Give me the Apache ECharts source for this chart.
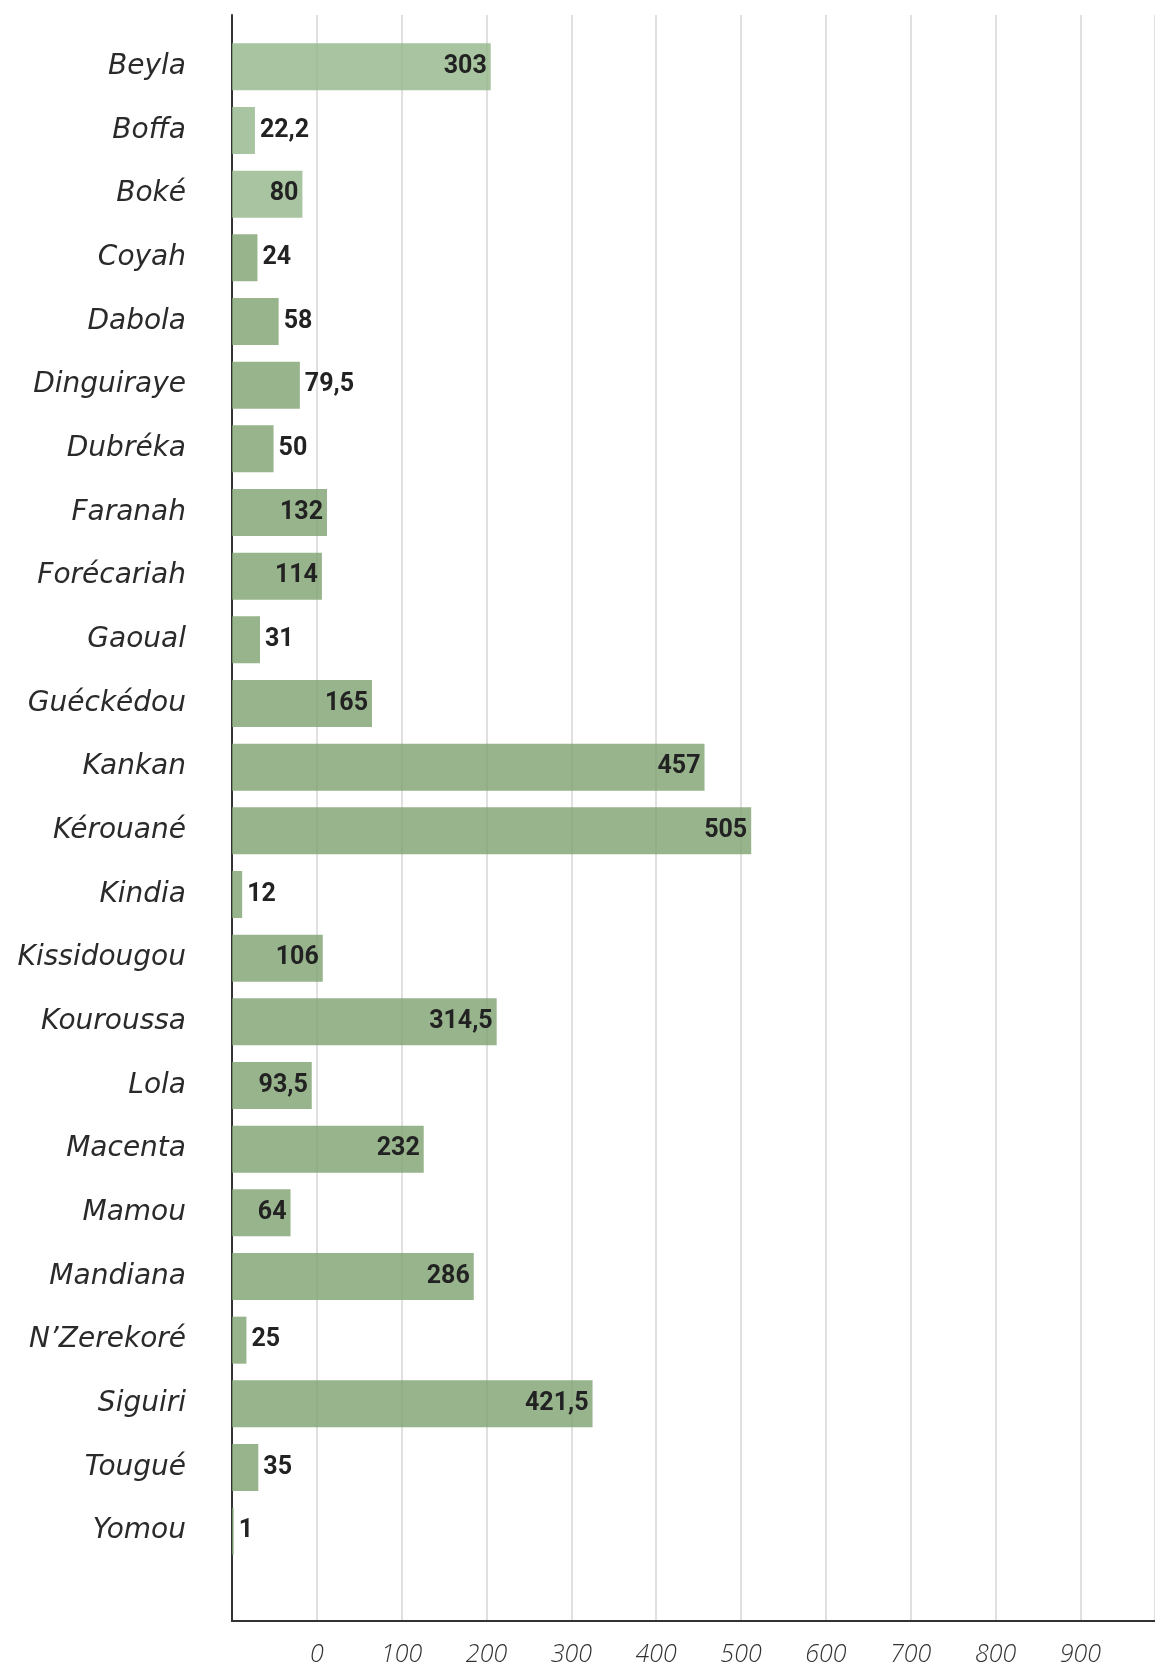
<!DOCTYPE html>
<html>
<head>
<meta charset="utf-8">
<script src="https://cdn.jsdelivr.net/npm/echarts@6/dist/echarts.min.js"></script>
<style>
  html, body { margin: 0; padding: 0; background: #ffffff; }
  #chart { width: 1155px; height: 1667px; }
</style>
</head>
<body>
<div id="chart"></div>
<script>
// Prefectures (top to bottom)
const categories = ['Beyla', 'Boffa', 'Boké', 'Coyah', 'Dabola', 'Dinguiraye', 'Dubréka', 'Faranah',
  'Forécariah', 'Gaoual', 'Guéckédou', 'Kankan', 'Kérouané', 'Kindia', 'Kissidougou', 'Kouroussa',
  'Lola', 'Macenta', 'Mamou', 'Mandiana', 'N’Zerekoré', 'Siguiri', 'Tougué', 'Yomou'];

// Values printed on the bars
const printedValues = [303, 22.2, 80, 24, 58, 79.5, 50, 132, 114, 31, 165, 457, 505, 12, 106, 314.5,
  93.5, 232, 64, 286, 25, 421.5, 35, 1];

// Bar lengths as drawn, read against the grid (axis line = origin)
const barLengths = [305, 27, 83, 30, 55, 80, 49, 112, 106, 33, 165, 557, 612, 12, 107, 312,
  94, 226, 69, 285, 17, 425, 31, 2];

// Tick labels as printed under the gridlines
const tickLabels = ['', '0', '100', '200', '300', '400', '500', '600', '700', '800', '900'];

const lightBars = ['Beyla', 'Boffa', 'Boké'];
const outsideLabels = ['Boffa', 'Coyah', 'Dabola', 'Dinguiraye', 'Dubréka', 'Gaoual', 'Kindia', 'N’Zerekoré', 'Tougué', 'Yomou'];

const fmt = v => String(v).replace('.', ',');
const AXIS_MAX = 1088;

const chart = echarts.init(document.getElementById('chart'), null, { renderer: 'canvas' });

const seriesData = categories.map((c, i) => ({
  value: barLengths[i],
  itemStyle: { color: lightBars.includes(c) ? 'rgba(146,181,136,0.8)' : 'rgba(126,161,111,0.8)' },
  label: outsideLabels.includes(c)
    ? { position: 'right', distance: 5 }
    : { position: 'insideRight', distance: 4 }
}));

chart.setOption({
  animation: false,
  backgroundColor: '#ffffff',
  grid: [
    { left: 232, right: 0, top: 15, bottom: 45 },
    { left: 232, right: 0, top: 35, height: 1528 }
  ],
  xAxis: [
    {
      gridIndex: 0, type: 'value', min: 0, max: AXIS_MAX, interval: 100,
      axisLine: { show: true, onZero: false, lineStyle: { color: '#333333', width: 2 } },
      axisTick: { show: false },
      splitLine: { show: true, lineStyle: { color: '#d6d6d6', width: 1.5 } },
      axisLabel: {
        show: true, margin: 21,
        formatter: (v, idx) => (tickLabels[idx] !== undefined ? tickLabels[idx] : ''),
        fontFamily: 'Open Sans', fontStyle: 'italic', fontWeight: 300, fontSize: 25, color: '#333333',
        showMaxLabel: false
      }
    },
    {
      gridIndex: 1, type: 'value', min: 0, max: AXIS_MAX, show: false,
      splitLine: { show: false }
    }
  ],
  yAxis: [
    {
      gridIndex: 0, type: 'value', min: 0, max: 1,
      axisLine: { show: true, onZero: false, lineStyle: { color: '#333333', width: 2 } },
      axisTick: { show: false }, axisLabel: { show: false }, splitLine: { show: false }
    },
    {
      gridIndex: 1, type: 'category', inverse: true, data: categories,
      axisLine: { show: false }, axisTick: { show: false }, splitLine: { show: false },
      axisLabel: {
        margin: 46, fontFamily: 'DejaVu Sans', fontStyle: 'italic', fontSize: 28, color: '#2a2a2a'
      }
    }
  ],
  series: [{
    type: 'bar',
    xAxisIndex: 1, yAxisIndex: 1,
    barWidth: 47,
    data: seriesData,
    label: {
      show: true,
      formatter: p => fmt(printedValues[p.dataIndex]),
      fontFamily: 'Roboto', fontWeight: 'bold', fontSize: 25, color: '#222222'
    }
  }]
});
</script>
</body>
</html>
